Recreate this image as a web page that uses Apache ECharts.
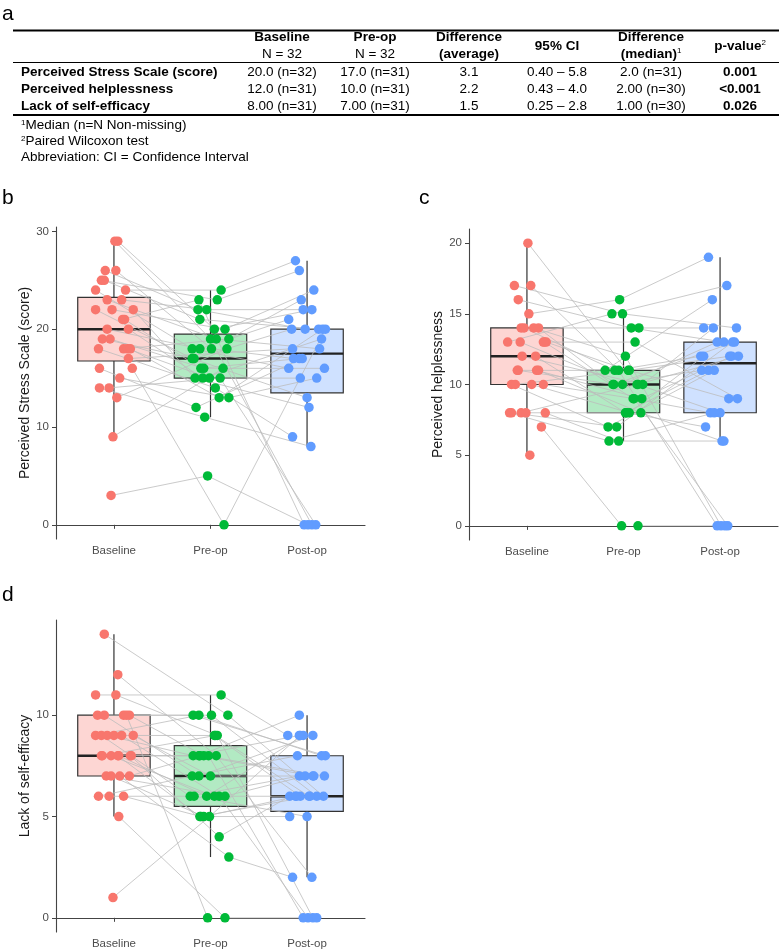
<!DOCTYPE html>
<html>
<head>
<meta charset="utf-8">
<script src="https://cdn.jsdelivr.net/npm/echarts@6/dist/echarts.min.js"></script>
<style>
  html, body { margin: 0; padding: 0; background: #fff; }
  #main { width: 779px; height: 950px; }
</style>
</head>
<body>
<div id="main"></div>
<script>
// categories
const groups = ["Baseline", "Pre-op", "Post-op"];

// panel b - Perceived Stress Scale, one entry per subject
const pssBase = [29,29,26,26,25,25,24,24,23,23,22,22,22,21,21,20,20,19,19,18,18,18,18,17,16,16,15,14,14,13,9,3];
const pssBaseJit = [0.01,0.04,-0.09,0.02,-0.13,-0.10,-0.19,0.12,-0.07,0.08,-0.19,-0.02,0.20,0.09,0.11,-0.07,0.15,-0.12,-0.04,-0.16,0.10,0.14,0.17,0.15,-0.15,0.19,0.06,-0.15,-0.05,0.03,-0.01,-0.03];
const pssPre = [19,20,22,18,23,21,18,24,19,22,17,20,15,23,16,18,15,17,16,14,19,15,13,null,12,0,13,11,15,18,16,5];
const pssPreJit = [0.00,0.04,-0.13,0.01,0.07,-0.11,-0.19,0.11,0.06,-0.04,-0.19,0.15,-0.16,-0.12,-0.10,-0.11,-0.08,-0.17,-0.07,0.05,0.19,-0.01,0.09,null,-0.15,0.14,0.19,-0.06,0.10,0.17,0.13,-0.03];
const pssPost = [0,22,20,17,26,20,16,27,18,22,13,24,12,0,17,21,19,20,16,9,23,15,20,18,17,20,15,8,0,null,null,0];
const pssPostJit = [0.05,0.05,-0.02,-0.14,-0.08,0.12,-0.19,-0.12,0.13,-0.04,0.00,0.07,0.02,-0.03,-0.08,-0.19,0.15,-0.16,0.18,-0.15,-0.06,-0.07,0.16,-0.15,-0.05,0.19,0.10,0.04,0.09,null,null,0.01];
const pssTicks = [0, 10, 20, 30];

// panel c - Perceived helplessness
const helpBase = [20,17,17,16,15,14,14,14,14,13,13,13,13,13,12,12,11,11,11,11,10,10,10,10,8,8,8,8,8,7,null,5];
const helpBaseJit = [0.01,-0.13,0.04,-0.09,0.02,-0.06,-0.03,0.07,0.12,-0.20,-0.07,0.17,0.20,0.18,-0.05,0.09,-0.10,0.10,0.12,-0.09,-0.16,-0.12,0.05,0.17,-0.18,-0.16,-0.06,-0.01,0.19,0.15,null,0.03];
const helpPre = [10,15,11,14,16,14,11,12,10,15,10,13,11,9,10,8,11,9,8,10,7,11,8,9,6,7,10,8,6,0,0,null];
const helpPreJit = [0.15,-0.01,-0.05,0.08,-0.04,0.16,-0.09,0.02,-0.11,-0.12,-0.01,0.12,0.05,0.10,0.20,0.02,-0.19,0.19,0.18,-0.10,-0.16,0.06,0.06,0.11,-0.15,-0.07,0.14,0.03,-0.05,-0.02,0.15,null];
const helpPost = [8,14,0,13,19,14,12,0,11,17,13,9,12,8,14,11,16,12,6,13,11,9,12,0,8,13,12,7,6,null,0,null];
const helpPostJit = [0.00,0.17,-0.03,0.04,-0.12,-0.17,-0.20,0.01,-0.19,0.07,-0.03,0.18,0.10,-0.10,-0.07,-0.12,-0.08,0.12,0.02,0.15,-0.06,0.09,-0.17,0.08,-0.06,0.13,0.19,-0.15,0.04,null,0.05,null];
const helpTicks = [0, 5, 10, 15, 20];

// panel d - Lack of self-efficacy
const effBase = [14,12,11,11,10,10,10,10,10,9,9,9,9,9,9,8,8,8,8,8,8,8,7,7,7,7,6,6,6,5,1];
const effBaseJit = [-0.10,0.04,-0.19,0.02,-0.17,-0.10,0.10,0.16,0.13,-0.19,-0.13,-0.07,0.00,0.08,0.20,-0.13,-0.03,0.04,0.18,-0.12,0.05,0.17,-0.08,-0.03,0.06,0.16,-0.16,-0.05,0.10,0.05,-0.01];
const effPre = [10,8,11,9,10,7,10,8,0,10,6,8,9,6,7,8,6,5,8,9,6,4,6,5,3,8,7,6,5,0,5];
const effPreJit = [0.18,0.06,0.11,0.07,-0.18,-0.12,0.01,-0.07,-0.03,-0.12,-0.21,-0.18,0.04,0.09,0.00,-0.12,0.04,-0.11,-0.02,0.05,-0.04,0.09,0.15,-0.07,0.19,-0.11,-0.19,-0.17,-0.10,0.15,-0.01];
const effPost = [6,2,9,0,8,9,6,7,null,8,7,9,6,0,7,10,6,5,0,6,9,6,7,6,2,7,8,5,6,0,9];
const effPostJit = [0.17,0.05,-0.20,0.06,0.19,0.06,0.10,0.18,null,0.15,-0.08,-0.08,-0.07,0.01,0.07,-0.08,-0.12,-0.18,-0.04,0.02,-0.04,-0.18,-0.02,-0.11,-0.15,0.06,-0.10,0.00,0.03,0.10,-0.07];
const effTicks = [0, 5, 10];

// table (panel a)
const tableHead1 = ["Baseline", "Pre-op", "Difference", "95% CI", "Difference", "p-value"];
const tableHead2 = ["N = 32", "N = 32", "(average)", "", "(median)", ""];
const rowLabels = ["Perceived Stress Scale (score)", "Perceived helplessness", "Lack of self-efficacy"];
const rowBaseline = ["20.0 (n=32)", "12.0 (n=31)", "8.00 (n=31)"];
const rowPreop = ["17.0 (n=31)", "10.0 (n=31)", "7.00 (n=31)"];
const rowDiffAvg = ["3.1", "2.2", "1.5"];
const rowCI = ["0.40 \u2013 5.8", "0.43 \u2013 4.0", "0.25 \u2013 2.8"];
const rowDiffMed = ["2.0 (n=31)", "2.00 (n=30)", "1.00 (n=30)"];
const rowP = ["0.001", "<0.001", "0.026"];

const colors = ["#F8766D", "#00BA38", "#619CFF"];
const fills = ["rgba(248,118,109,0.3)", "rgba(0,186,56,0.3)", "rgba(97,156,255,0.3)"];
const FONT = "'Liberation Sans', Arial, sans-serif";

// type 7 quantile, like R
function quantile(sorted, p) {
  var h = (sorted.length - 1) * p;
  var lo = Math.floor(h);
  var hi = Math.min(lo + 1, sorted.length - 1);
  return sorted[lo] + (h - lo) * (sorted[hi] - sorted[lo]);
}

function boxStats(vals) {
  var s = vals.filter(function (v) { return v != null; }).sort(function (a, b) { return a - b; });
  var q1 = quantile(s, 0.25), med = quantile(s, 0.5), q3 = quantile(s, 0.75);
  var iqr = q3 - q1;
  var inside = s.filter(function (v) { return v >= q1 - 1.5 * iqr && v <= q3 + 1.5 * iqr; });
  return [inside[0], q1, med, q3, inside[inside.length - 1]];
}

const panels = [
  { vals: [pssBase, pssPre, pssPost], jit: [pssBaseJit, pssPreJit, pssPostJit], ticks: pssTicks,
    min: -1.45, max: 30.45, name: "Perceived Stress Scale (score)", nameGap: 21,
    grid: { left: 56, top: 227, width: 309, height: 312 } },
  { vals: [helpBase, helpPre, helpPost], jit: [helpBaseJit, helpPreJit, helpPostJit], ticks: helpTicks,
    min: -1, max: 21, name: "Perceived helplessness", nameGap: 22,
    grid: { left: 469, top: 229, width: 309, height: 311 } },
  { vals: [effBase, effPre, effPost], jit: [effBaseJit, effPreJit, effPostJit], ticks: effTicks,
    min: -0.7, max: 14.7, name: "Lack of self-efficacy", nameGap: 21,
    grid: { left: 56, top: 620, width: 309, height: 312 } }
];

function renderBox(params, api) {
  var x = api.value(0);
  var pLo = api.coord([x, api.value(1)]);
  var pQ1 = api.coord([x, api.value(2)]);
  var pMed = api.coord([x, api.value(3)]);
  var pQ3 = api.coord([x, api.value(4)]);
  var pHi = api.coord([x, api.value(5)]);
  var half = api.size([0.75, 0])[0] / 2;
  var ci = api.value(6);
  return {
    type: "group",
    children: [
      { type: "line", shape: { x1: pLo[0], y1: pLo[1], x2: pQ1[0], y2: pQ1[1] }, style: { stroke: "#333", lineWidth: 1.2 } },
      { type: "line", shape: { x1: pQ3[0], y1: pQ3[1], x2: pHi[0], y2: pHi[1] }, style: { stroke: "#333", lineWidth: 1.2 } },
      { type: "rect", shape: { x: pQ1[0] - half, y: pQ3[1], width: half * 2, height: pQ1[1] - pQ3[1] },
        style: { fill: fills[ci], stroke: "#333", lineWidth: 1.2 } },
      { type: "line", shape: { x1: pMed[0] - half, y1: pMed[1], x2: pMed[0] + half, y2: pMed[1] }, style: { stroke: "#222", lineWidth: 2.4 } }
    ]
  };
}

var grids = [], xAxes = [], yAxes = [], series = [];

panels.forEach(function (p, k) {
  grids.push(Object.assign({ outerBoundsMode: "none", containLabel: false }, p.grid));
  xAxes.push({
    type: "value", gridIndex: k, min: 0.4, max: 3.6,
    splitLine: { show: false },
    axisLine: { show: true, lineStyle: { color: "#444", width: 1.1 } },
    axisTick: { show: true, length: 4, customValues: [1, 2, 3], lineStyle: { color: "#444" } },
    axisLabel: {
      customValues: [1, 2, 3], margin: 6, color: "#4d4d4d", fontSize: 11.5, fontFamily: FONT,
      formatter: function (v) { return groups[Math.round(v) - 1]; }
    }
  });
  yAxes.push({
    type: "value", gridIndex: k, min: p.min, max: p.max,
    splitLine: { show: false },
    axisLine: { show: true, lineStyle: { color: "#444", width: 1.1 } },
    axisTick: { show: true, length: 4, customValues: p.ticks, lineStyle: { color: "#444" } },
    axisLabel: { customValues: p.ticks, margin: 7, color: "#4d4d4d", fontSize: 11.5, fontFamily: FONT },
    name: p.name, nameLocation: "middle", nameGap: p.nameGap,
    nameTextStyle: { color: "#1a1a1a", fontSize: 14, fontFamily: FONT }
  });

  // boxes
  series.push({
    type: "custom", xAxisIndex: k, yAxisIndex: k, z: 1, silent: true,
    renderItem: renderBox,
    encode: { x: 0, y: [1, 2, 3, 4, 5] },
    data: p.vals.map(function (v, g) { return [g + 1].concat(boxStats(v)).concat([g]); })
  });

  // paired lines, one per subject
  var lineData = [];
  for (var i = 0; i < p.vals[0].length; i++) {
    var coords = [];
    for (var g = 0; g < 3; g++) {
      if (p.vals[g][i] != null) coords.push([g + 1 + p.jit[g][i], p.vals[g][i]]);
    }
    if (coords.length > 1) lineData.push({ coords: coords });
  }
  series.push({
    type: "lines", coordinateSystem: "cartesian2d", xAxisIndex: k, yAxisIndex: k,
    polyline: true, silent: true, z: 2,
    lineStyle: { color: "#bdbdbd", width: 0.8, opacity: 1 },
    data: lineData
  });

  // jittered points
  for (var g2 = 0; g2 < 3; g2++) {
    var pts = [];
    p.vals[g2].forEach(function (v, i) {
      if (v != null) pts.push([g2 + 1 + p.jit[g2][i], v]);
    });
    series.push({
      type: "scatter", xAxisIndex: k, yAxisIndex: k, z: 3, silent: true,
      symbolSize: 9.5, itemStyle: { color: colors[g2], opacity: 1 },
      data: pts
    });
  }
});

// table graphics
var colX = [282, 375, 469, 557, 651, 740];
var rowY = [72.7, 89.3, 106];
var tStyle = { fontFamily: FONT, fontSize: 13.5, fill: "#000" };
var graphics = [];

function txt(x, y, text, align, bold, extra) {
  graphics.push({
    type: "text", x: x, y: y, silent: true,
    style: Object.assign({ text: text, textAlign: align, textVerticalAlign: "middle", fontWeight: bold ? "bold" : "normal" }, tStyle, extra || {})
  });
}
function rule(y, w) {
  graphics.push({ type: "line", silent: true, shape: { x1: 13, y1: y, x2: 779, y2: y }, style: { stroke: "#000", lineWidth: w } });
}

var supRich = { sup: { fontSize: 8, verticalAlign: "top", fontFamily: FONT } };
var supRichB = { sup: { fontSize: 8, verticalAlign: "top", fontFamily: FONT, fontWeight: "normal" } };

// panel letters
txt(2, 14, "a", "left", false, { fontSize: 21 });
txt(2, 198, "b", "left", false, { fontSize: 21 });
txt(419, 198, "c", "left", false, { fontSize: 21 });
txt(2, 595, "d", "left", false, { fontSize: 21 });

rule(30.5, 2);
rule(62.5, 1);
rule(115, 2);

tableHead1.forEach(function (h, c) {
  if (tableHead2[c]) {
    var t2 = tableHead2[c];
    txt(colX[c], 37.5, h, "center", true);
    if (c === 4) txt(colX[c], 54, "(median){sup|1}", "center", true, { rich: supRichB });
    else txt(colX[c], 54, t2, "center", c >= 2);
  } else if (c === 5) {
    txt(colX[c], 46, "p-value{sup|2}", "center", true, { rich: supRichB });
  } else {
    txt(colX[c], 46, h, "center", true);
  }
});

rowLabels.forEach(function (r, i) {
  txt(21, rowY[i], r, "left", true);
  txt(colX[0], rowY[i], rowBaseline[i], "center", false);
  txt(colX[1], rowY[i], rowPreop[i], "center", false);
  txt(colX[2], rowY[i], rowDiffAvg[i], "center", false);
  txt(colX[3], rowY[i], rowCI[i], "center", false);
  txt(colX[4], rowY[i], rowDiffMed[i], "center", false);
  txt(colX[5], rowY[i], rowP[i], "center", true);
});

txt(21, 125.7, "{sup|1}Median (n=N Non-missing)", "left", false, { rich: supRich });
txt(21, 141.7, "{sup|2}Paired Wilcoxon test", "left", false, { rich: supRich });
txt(21, 157.3, "Abbreviation: CI = Confidence Interval", "left", false);

var chart = echarts.init(document.getElementById("main"), null, { renderer: "canvas" });
chart.setOption({
  animation: false,
  backgroundColor: "#fff",
  grid: grids,
  xAxis: xAxes,
  yAxis: yAxes,
  series: series,
  graphic: graphics
});
</script>
</body>
</html>
